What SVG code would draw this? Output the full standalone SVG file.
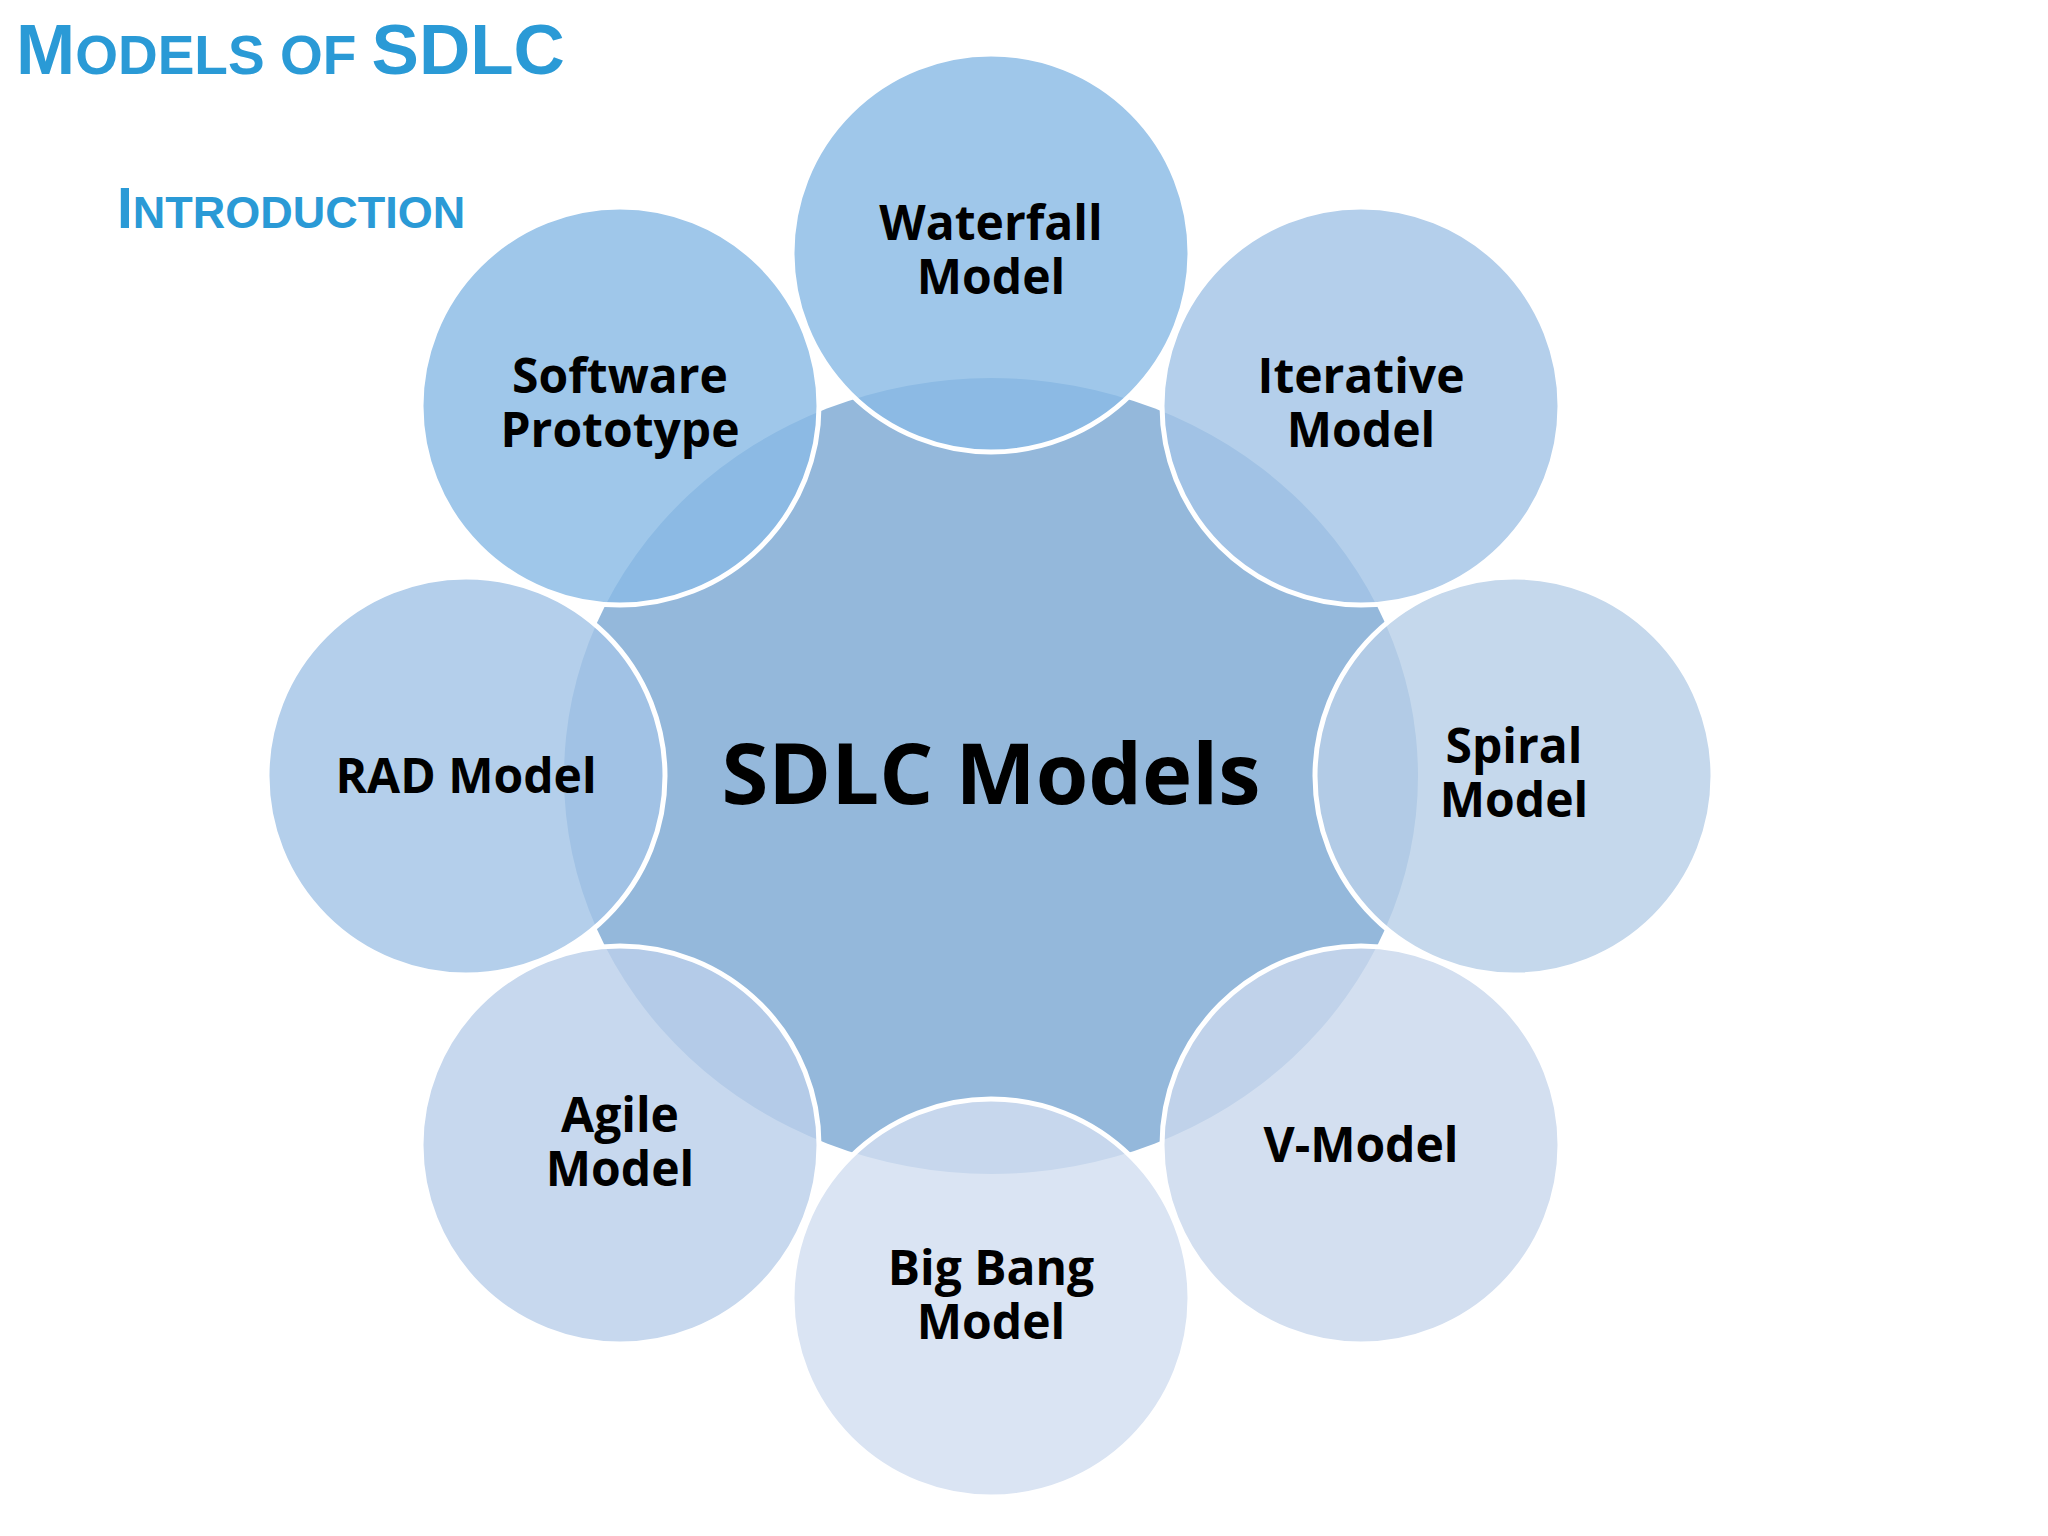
<svg xmlns="http://www.w3.org/2000/svg" width="2048" height="1536" viewBox="0 0 2048 1536">
<style>
.s{stroke:#fff;stroke-width:5;fill-opacity:0.82}
.t{font-family:"Open Sans","DejaVu Sans",sans-serif;font-weight:bold;font-size:48px;fill:#000;text-anchor:middle}
.c{font-size:85px}
.h{font-family:"Liberation Sans",Arial,sans-serif;font-weight:bold;fill:#2a9ad6}
</style>
<rect width="2048" height="1536" fill="#fff"/>
<text class="h" x="16" y="74" font-size="71">M<tspan font-size="55">ODELS OF </tspan>SDLC</text>
<text class="h" x="117" y="228" font-size="57">I<tspan font-size="45">NTRODUCTION</tspan></text>
<g id="center"><ellipse cx="991" cy="776" rx="427" ry="398" fill="#94b8db"/></g>
<g id="waterfall"><circle class="s" cx="991" cy="253" r="199" fill="#8abbe5"/><text class="t" x="991" y="240">Waterfall</text><text class="t" x="991" y="294">Model</text></g>
<g id="iterative"><circle class="s" cx="1361" cy="406" r="199" fill="#a3c5e6"/><text class="t" x="1361" y="393">Iterative</text><text class="t" x="1361" y="447">Model</text></g>
<g id="spiral"><circle class="s" cx="1514" cy="776" r="199" fill="#b8cfe8"/><text class="t" x="1514" y="763">Spiral</text><text class="t" x="1514" y="817">Model</text></g>
<g id="vmodel"><circle class="s" cx="1361" cy="1145" r="199" fill="#c9d8ed"/><text class="t" x="1361" y="1162">V-Model</text></g>
<g id="bigbang"><circle class="s" cx="991" cy="1298" r="199" fill="#d2def0"/><text class="t" x="991" y="1285">Big Bang</text><text class="t" x="991" y="1339">Model</text></g>
<g id="agile"><circle class="s" cx="620" cy="1145" r="199" fill="#bbd0ea"/><text class="t" x="620" y="1132">Agile</text><text class="t" x="620" y="1186">Model</text></g>
<g id="rad"><circle class="s" cx="466" cy="776" r="199" fill="#a3c5e6"/><text class="t" x="466" y="793">RAD Model</text></g>
<g id="software"><circle class="s" cx="620" cy="406" r="199" fill="#8abbe5"/><text class="t" x="620" y="393">Software</text><text class="t" x="620" y="447">Prototype</text></g>
<text class="t c" x="991" y="804">SDLC Models</text>
<g id="connectors"/>
</svg>
